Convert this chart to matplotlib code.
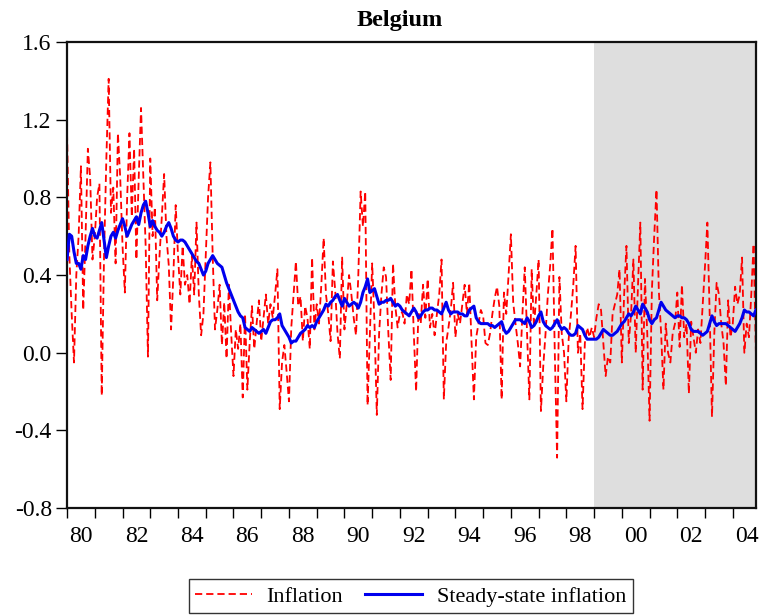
import numpy as np
import matplotlib
matplotlib.use('Agg')
import matplotlib.pyplot as plt

# monthly data, 1980M01 - 2004M11
START_YEAR = 1980
SHADE_START = 1999.0

inflation = [
    1.13, 0.50, 0.20, -0.05, 0.40, 0.60, 0.96, 0.22, 0.60, 1.05, 0.90, 0.48,   # 1980
    0.60, 0.80, 0.87, -0.22, 0.50, 1.00, 1.41, 0.72, 0.85, 0.46, 1.13, 0.90,   # 1981
    0.55, 0.31, 0.80, 1.13, 0.70, 1.05, 0.48, 0.90, 1.26, 0.90, 0.55, -0.02,   # 1982
    1.00, 0.60, 0.75, 0.27, 0.50, 0.70, 0.92, 0.60, 0.45, 0.12, 0.40, 0.76,    # 1983
    0.50, 0.30, 0.55, 0.35, 0.40, 0.25, 0.50, 0.30, 0.67, 0.30, 0.09, 0.20,    # 1984
    0.50, 0.80, 0.98, 0.50, 0.12, 0.22, 0.35, 0.04, 0.26, -0.03, 0.35, 0.10,   # 1985
    -0.12, 0.12, 0.02, 0.15, -0.23, 0.20, -0.19, 0.05, 0.24, 0.02, 0.15, 0.27, # 1986
    0.06, 0.18, 0.30, 0.15, 0.25, 0.18, 0.30, 0.43, -0.29, -0.05, 0.04, -0.10, # 1987
    -0.25, 0.13, 0.30, 0.47, 0.24, 0.29, 0.06, 0.24, 0.18, 0.02, 0.49, 0.12,   # 1988
    0.25, 0.15, 0.35, 0.59, 0.30, 0.20, 0.06, 0.47, 0.32, 0.10, -0.03, 0.49,   # 1989
    0.12, 0.25, 0.40, 0.30, 0.18, 0.09, 0.40, 0.83, 0.65, 0.83, -0.27, 0.10,   # 1990
    0.46, 0.15, -0.32, 0.10, 0.30, 0.44, 0.39, 0.10, -0.14, 0.46, 0.24, 0.13,  # 1991
    0.20, 0.21, 0.15, 0.30, 0.25, 0.43, 0.10, -0.20, 0.21, 0.15, 0.35, 0.18,   # 1992
    0.38, 0.13, 0.20, 0.09, 0.20, 0.30, 0.48, -0.24, 0.05, 0.13, 0.22, 0.36,   # 1993
    0.08, 0.20, 0.15, 0.25, 0.35, 0.20, 0.36, 0.05, -0.24, 0.08, 0.15, 0.22,   # 1994
    0.19, 0.05, 0.04, 0.10, 0.20, 0.28, 0.34, 0.24, -0.24, 0.31, 0.20, 0.40,   # 1995
    0.61, 0.26, 0.15, 0.05, -0.07, 0.20, 0.44, 0.10, -0.24, 0.43, 0.13, 0.30,  # 1996
    0.48, -0.30, -0.07, 0.10, 0.30, 0.45, 0.64, 0.00, -0.54, 0.39, 0.10, 0.00, # 1997
    -0.25, 0.07, 0.20, 0.35, 0.55, 0.00, 0.10, -0.29, 0.05, 0.13, 0.08, 0.13,  # 1998
    0.08, 0.18, 0.25, 0.22, 0.05, -0.12, -0.02, -0.05, 0.20, 0.25, 0.30, 0.43, # 1999
    -0.05, 0.30, 0.55, 0.05, 0.20, 0.48, 0.00, 0.35, 0.67, -0.19, 0.38, 0.10,  # 2000
    -0.35, 0.32, 0.60, 0.84, 0.32, 0.10, -0.19, 0.15, 0.00, -0.05, 0.10, 0.15, # 2001
    0.31, 0.03, 0.35, 0.08, 0.15, -0.21, 0.16, 0.08, 0.00, 0.12, 0.05, 0.25,   # 2002
    0.45, 0.67, 0.20, -0.33, 0.10, 0.36, 0.30, 0.15, 0.05, -0.17, 0.27, 0.08,  # 2003
    0.15, 0.34, 0.25, 0.30, 0.49, 0.00, 0.15, 0.08, 0.30, 0.56, 0.00,          # 2004
]

steady_state = [
    0.48, 0.61, 0.60, 0.52, 0.46, 0.46, 0.43, 0.50, 0.48, 0.55, 0.60, 0.64,   # 1980
    0.60, 0.59, 0.63, 0.67, 0.58, 0.49, 0.55, 0.60, 0.62, 0.59, 0.63, 0.66,   # 1981
    0.69, 0.65, 0.60, 0.63, 0.66, 0.68, 0.70, 0.66, 0.72, 0.76, 0.78, 0.72,   # 1982
    0.65, 0.68, 0.65, 0.63, 0.62, 0.60, 0.62, 0.65, 0.67, 0.64, 0.60, 0.58,   # 1983
    0.57, 0.58, 0.58, 0.57, 0.55, 0.53, 0.51, 0.49, 0.47, 0.46, 0.43, 0.40,   # 1984
    0.42, 0.46, 0.48, 0.50, 0.48, 0.46, 0.45, 0.44, 0.40, 0.36, 0.33, 0.30,   # 1985
    0.27, 0.24, 0.21, 0.19, 0.18, 0.13, 0.12, 0.11, 0.13, 0.12, 0.11, 0.10,   # 1986
    0.11, 0.12, 0.10, 0.13, 0.16, 0.17, 0.17, 0.18, 0.20, 0.14, 0.12, 0.10,   # 1987
    0.08, 0.05, 0.06, 0.06, 0.08, 0.10, 0.11, 0.12, 0.14, 0.13, 0.14, 0.13,   # 1988
    0.16, 0.18, 0.20, 0.22, 0.25, 0.24, 0.26, 0.27, 0.29, 0.30, 0.27, 0.24,   # 1989
    0.28, 0.26, 0.24, 0.25, 0.26, 0.25, 0.23, 0.26, 0.31, 0.34, 0.38, 0.31,   # 1990
    0.32, 0.33, 0.29, 0.25, 0.26, 0.26, 0.27, 0.27, 0.28, 0.26, 0.24, 0.25,   # 1991
    0.24, 0.22, 0.21, 0.20, 0.19, 0.21, 0.23, 0.21, 0.18, 0.19, 0.21, 0.22,   # 1992
    0.22, 0.23, 0.23, 0.22, 0.22, 0.21, 0.20, 0.23, 0.26, 0.22, 0.20, 0.21,   # 1993
    0.21, 0.21, 0.20, 0.20, 0.19, 0.19, 0.22, 0.23, 0.24, 0.18, 0.16, 0.15,   # 1994
    0.15, 0.15, 0.15, 0.14, 0.14, 0.13, 0.14, 0.15, 0.16, 0.12, 0.10, 0.11,   # 1995
    0.13, 0.15, 0.17, 0.17, 0.17, 0.16, 0.15, 0.18, 0.16, 0.13, 0.14, 0.16,   # 1996
    0.19, 0.21, 0.16, 0.14, 0.13, 0.12, 0.13, 0.15, 0.17, 0.14, 0.12, 0.13,   # 1997
    0.12, 0.10, 0.09, 0.09, 0.10, 0.14, 0.13, 0.12, 0.09, 0.07, 0.07, 0.07,   # 1998
    0.07, 0.07, 0.08, 0.10, 0.12, 0.11, 0.10, 0.09, 0.09, 0.10, 0.11, 0.13,   # 1999
    0.15, 0.16, 0.18, 0.20, 0.19, 0.21, 0.24, 0.22, 0.20, 0.25, 0.23, 0.21,   # 2000
    0.17, 0.15, 0.17, 0.18, 0.22, 0.26, 0.24, 0.22, 0.21, 0.20, 0.19, 0.18,   # 2001
    0.19, 0.19, 0.18, 0.18, 0.17, 0.15, 0.12, 0.11, 0.11, 0.11, 0.10, 0.09,   # 2002
    0.10, 0.11, 0.15, 0.19, 0.16, 0.14, 0.15, 0.15, 0.15, 0.15, 0.14, 0.13,   # 2003
    0.12, 0.11, 0.13, 0.15, 0.18, 0.22, 0.21, 0.21, 0.20, 0.19, 0.22,         # 2004
]

y_ticks = [-0.8, -0.4, 0.0, 0.4, 0.8, 1.2, 1.6]
label_years = list(range(1980, 2005, 2))

plt.rcParams.update({
    'font.family': 'serif',
    'font.serif': ['Liberation Serif', 'DejaVu Serif'],
    'font.size': 16,
})

t = START_YEAR + np.arange(len(inflation)) / 12.0
t_end = t[-1]

fig = plt.figure(figsize=(7.62, 6.16), dpi=100)
ax = fig.add_axes([0.088, 0.175, 0.904, 0.757])

ax.axvspan(SHADE_START, t_end, color='#dedede', lw=0, zorder=0)
ax.plot(t, inflation, color='#ff0000', lw=1.3, ls=(0, (4, 2.2)), label='Inflation', zorder=2)
ax.plot(t, steady_state, color='#0000ee', lw=2.2, label='Steady-state inflation', zorder=3)

ax.set_xlim(START_YEAR, t_end)
ax.set_ylim(-0.8, 1.6)
ax.set_yticks(y_ticks)
ax.set_yticklabels([f'{v:.1f}' for v in y_ticks])

# yearly ticks, labels centred within the year
ax.set_xticks(np.arange(START_YEAR, 2005))
ax.set_xticklabels([])
ax.set_xticks([y + 0.5 for y in label_years], minor=True)
ax.set_xticklabels([f'{y % 100:02d}' for y in label_years], minor=True)
ax.tick_params(axis='x', which='major', direction='out', length=7.5, width=1)
ax.tick_params(axis='x', which='minor', length=0, pad=13, labelsize=17)
ax.tick_params(axis='y', direction='out', length=8, width=1, labelsize=17, pad=3)

for s in ax.spines.values():
    s.set_linewidth(1.6)
    s.set_color('#111111')

fig.text(0.525, 0.966, 'Belgium', ha='center', va='center', fontsize=17.5, fontweight='bold')

leg = fig.legend(loc='center', bbox_to_anchor=(0.539, 0.032), ncol=2, frameon=True,
                 fancybox=False, edgecolor='black', fontsize=16, handlelength=2.55,
                 columnspacing=1.0, handletextpad=0.65, borderpad=0.3)
leg.get_frame().set_linewidth(1.0)

fig.savefig('out.png', dpi=100, facecolor='white')
